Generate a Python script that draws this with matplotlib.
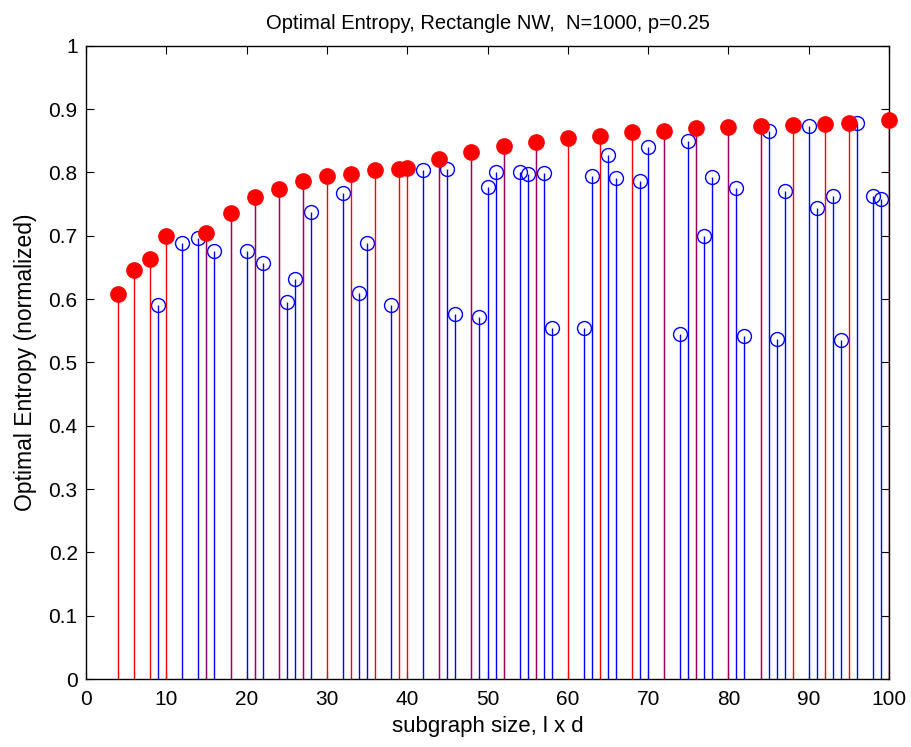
import matplotlib
matplotlib.use("Agg")
import matplotlib.pyplot as plt
import numpy as np

plt.rcParams['font.family'] = ['Liberation Sans', 'DejaVu Sans']

# best rectangle for each subgraph size (filled red)
best_size = [4, 6, 8, 10, 15, 18, 21, 24, 27, 30, 33, 36, 39, 40, 44, 48, 52,
             56, 60, 64, 68, 72, 76, 80, 84, 88, 92, 95, 100]
best_entropy = [0.608, 0.646, 0.664, 0.700, 0.705, 0.736, 0.761, 0.773, 0.787,
                0.795, 0.798, 0.803, 0.805, 0.807, 0.821, 0.832, 0.842, 0.848,
                0.854, 0.858, 0.864, 0.866, 0.870, 0.872, 0.873, 0.875, 0.876,
                0.878, 0.883]

# other rectangles (open blue)
rect_size = [9, 12, 14, 16, 20, 22, 25, 26, 28, 32, 34, 35, 38, 42, 45, 46, 49,
             50, 51, 54, 55, 57, 58, 62, 63, 65, 66, 69, 70, 74, 75, 77, 78, 81,
             82, 85, 86, 87, 90, 91, 93, 94, 96, 98, 99]
rect_entropy = [0.591, 0.689, 0.697, 0.676, 0.676, 0.657, 0.595, 0.632, 0.738,
                0.767, 0.609, 0.688, 0.591, 0.804, 0.806, 0.576, 0.572, 0.777,
                0.801, 0.801, 0.797, 0.799, 0.555, 0.555, 0.794, 0.828, 0.791,
                0.786, 0.840, 0.545, 0.850, 0.699, 0.792, 0.775, 0.542, 0.866,
                0.537, 0.770, 0.873, 0.743, 0.762, 0.535, 0.878, 0.762, 0.758]

# sizes where a blue rectangle ties with the red one
tie_size = [15, 18, 21, 24, 27, 44, 48, 52, 56, 72, 76, 80, 84, 100]

fig = plt.figure(figsize=(9.12, 7.47), dpi=100)
ax = fig.add_axes([0.0943, 0.091, 0.8805, 0.8478])

ml, sl, bl = ax.stem(rect_size, rect_entropy, linefmt='b-', markerfmt='bo', basefmt=' ')
plt.setp(sl, linewidth=1.0, color=(0, 0, 1))
plt.setp(ml, markerfacecolor='none', markeredgecolor=(0, 0, 1), markersize=10,
         markeredgewidth=1.0, clip_on=False)

ml, sl, bl = ax.stem(best_size, best_entropy, linefmt='r-', markerfmt='ro', basefmt=' ')
plt.setp(sl, linewidth=1.0, color=(1, 0, 0))
plt.setp(ml, markerfacecolor=(1, 0, 0), markeredgecolor=(1, 0, 0), markersize=11,
         clip_on=False, zorder=3)

tie_y = [best_entropy[best_size.index(s)] for s in tie_size]
ax.vlines(tie_size, 0, tie_y, colors=(0, 0, 1), linewidth=1.0, alpha=0.4, zorder=2.5)

ax.set_xlim(0, 100)
ax.set_ylim(0, 1)
ax.set_xticks(np.arange(0, 101, 10))
ax.set_yticks(np.arange(0, 1.01, 0.1))
ax.set_yticklabels(['0', '0.1', '0.2', '0.3', '0.4', '0.5', '0.6', '0.7', '0.8', '0.9', '1'])
ax.tick_params(direction='in', top=True, right=True, labelsize=15, length=6, width=0.8)
ax.tick_params(axis='x', pad=8)
ax.tick_params(axis='y', pad=6)
for sp in ax.spines.values():
    sp.set_linewidth(1.0)

ax.set_xlabel('subgraph size, l x d', fontsize=16, labelpad=5)
ax.set_ylabel('Optimal Entropy (normalized)', fontsize=16.5, labelpad=8)
ax.set_title('Optimal Entropy, Rectangle NW,  N=1000, p=0.25', fontsize=14.5, pad=12)

fig.savefig('out.png', dpi=100)
